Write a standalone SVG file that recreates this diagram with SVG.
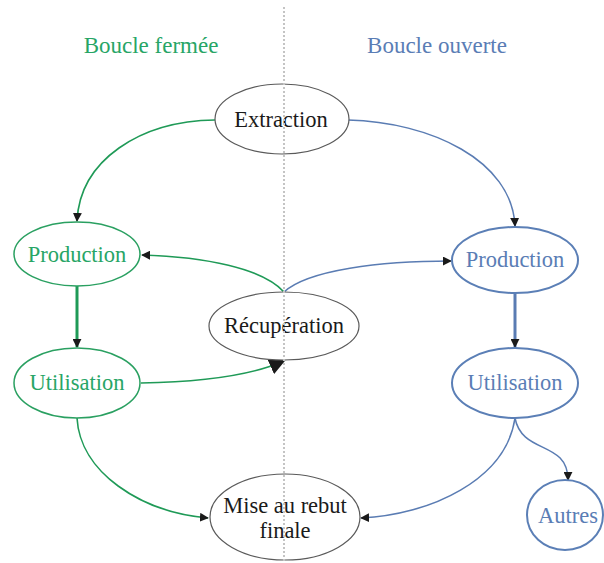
<svg xmlns="http://www.w3.org/2000/svg" width="604" height="563" viewBox="0 0 604 563">
  <style>
    text { font-family: "Liberation Serif", "DejaVu Serif", "Times New Roman", serif; font-size: 22.5px; text-anchor: middle; }
    .title { font-size: 23px; }
    .dark { fill: #1a1a1a; }
    .gtxt { fill: #27a566; }
    .btxt { fill: #5a7db5; }
    .nd { fill: #ffffff; stroke: #5a5a5a; stroke-width: 1.2; }
    .ng { fill: #ffffff; stroke: #2aa061; stroke-width: 1.5; }
    .nb { fill: #ffffff; stroke: #5b7fb6; stroke-width: 2; }
    .eg { fill: none; stroke: #1f9a57; stroke-width: 1.6; }
    .eb { fill: none; stroke: #5a7cb3; stroke-width: 1.5; }
    .thick { stroke-width: 3; }
  </style>
  <defs>
    <marker id="arr" viewBox="0 0 10 10" refX="9" refY="5" markerWidth="9" markerHeight="9" markerUnits="userSpaceOnUse" orient="auto">
      <path d="M0,0 L10,5 L0,10 z" fill="#1a1a1a"/>
    </marker>
    <marker id="arrBig" viewBox="0 0 10 10" refX="9" refY="5" markerWidth="16" markerHeight="16" markerUnits="userSpaceOnUse" orient="auto">
      <path d="M0,0 L10,5 L0,10 z" fill="#1a1a1a"/>
    </marker>
  </defs>

  <rect width="604" height="563" fill="#ffffff"/>

  <g font-family="'Liberation Serif', 'DejaVu Serif', serif">
    <text class="title gtxt" x="151" y="53">Boucle fermée</text>
    <text class="title btxt" x="437" y="53">Boucle ouverte</text>
  </g>

  <g id="connectors">
    <path class="eg" d="M215,120 C140,121 80,160 77,221" marker-end="url(#arr)"/>
    <path class="eb" d="M348,120 C430,122 512,160 515,226" marker-end="url(#arr)"/>
    <path class="eg thick" d="M77,286 L77,347" marker-end="url(#arr)"/>
    <path class="eb thick" d="M515,292 L515,347" marker-end="url(#arr)"/>
    <path class="eg" d="M284,292 C262,268 205,257 142,255" marker-end="url(#arr)"/>
    <path class="eb" d="M284,292 C308,270 380,261 451,261" marker-end="url(#arr)"/>
    <path class="eg" d="M141,383 C200,382 250,376 284,361" marker-end="url(#arrBig)"/>
    <path class="eg" d="M77,418 C80,472 140,512 208,518" marker-end="url(#arr)"/>
    <path class="eb" d="M515,418 C506,480 430,515 361,518" marker-end="url(#arr)"/>
    <path class="eb" d="M515,418 C522,455 568,440 568,480" marker-end="url(#arr)"/>
  </g>

  <g font-family="'Liberation Serif', 'DejaVu Serif', serif">
    <g id="extraction">
      <ellipse class="nd" cx="282" cy="119" rx="67" ry="35"/>
      <text class="dark" x="281" y="127">Extraction</text>
    </g>
    <g id="production-fermee">
      <ellipse class="ng" cx="77" cy="254" rx="63" ry="32"/>
      <text class="gtxt" x="77" y="262">Production</text>
    </g>
    <g id="utilisation-fermee">
      <ellipse class="ng" cx="77" cy="383" rx="63" ry="35"/>
      <text class="gtxt" x="77" y="390">Utilisation</text>
    </g>
    <g id="recuperation">
      <ellipse class="nd" cx="284" cy="326" rx="75" ry="34"/>
      <text class="dark" x="284" y="333">Récupération</text>
    </g>
    <g id="production-ouverte">
      <ellipse class="nb" cx="515" cy="260" rx="63" ry="33"/>
      <text class="btxt" x="515" y="267">Production</text>
    </g>
    <g id="utilisation-ouverte">
      <ellipse class="nb" cx="515" cy="383" rx="63" ry="35"/>
      <text class="btxt" x="515" y="390">Utilisation</text>
    </g>
    <g id="mise-au-rebut">
      <ellipse class="nd" cx="285" cy="517" rx="75" ry="43"/>
      <text class="dark" x="285" y="513">Mise au rebut</text>
      <text class="dark" x="285" y="538">finale</text>
    </g>
    <g id="autres">
      <ellipse class="nb" cx="565" cy="515" rx="38" ry="35"/>
      <text class="btxt" x="568" y="523">Autres</text>
    </g>
  </g>

  <!-- dotted divider between the two loops, drawn over the shared nodes -->
  <line x1="284" y1="7" x2="284" y2="563" stroke="#c4c4c4" stroke-width="2" stroke-dasharray="2 2"/>
</svg>
